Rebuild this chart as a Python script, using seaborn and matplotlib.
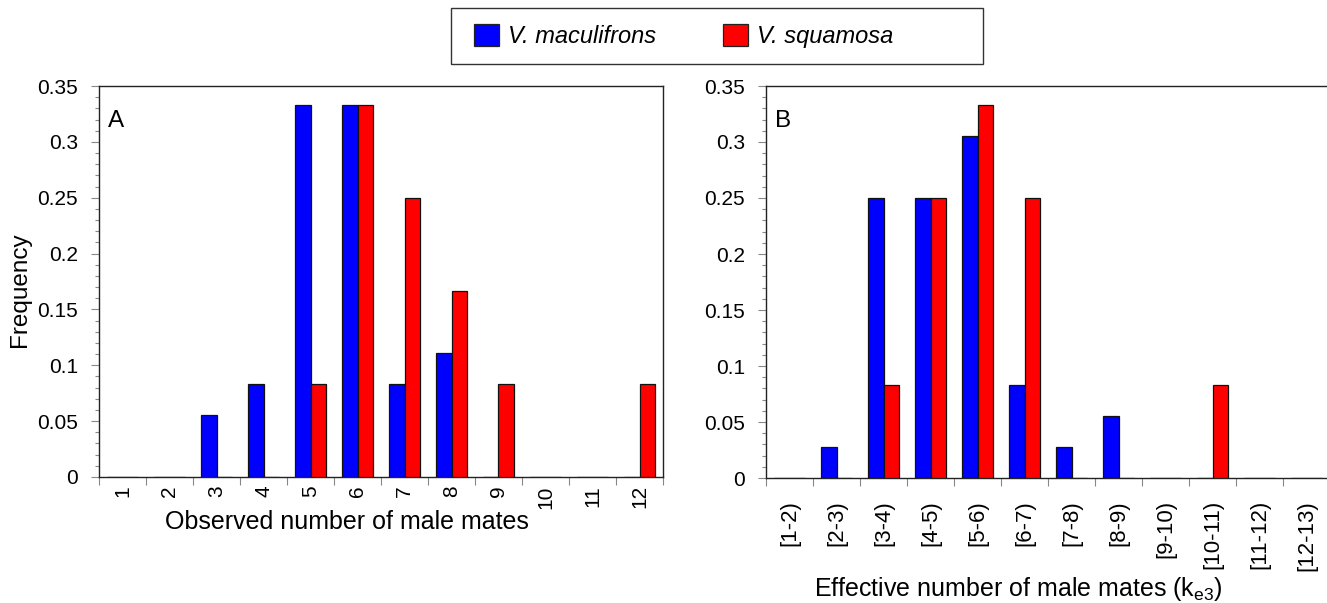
import numpy as np
import pandas as pd
import matplotlib
matplotlib.use("Agg")
import matplotlib.pyplot as plt
from matplotlib.patches import Patch, Rectangle
from matplotlib.ticker import MultipleLocator, FixedLocator, FuncFormatter
import seaborn as sns

sns.set_style("ticks")
plt.rcParams["font.family"] = ["Liberation Sans", "DejaVu Sans"]
plt.rcParams["text.color"] = "black"
plt.rcParams["axes.labelcolor"] = "black"

# Data
species = ["V. maculifrons", "V. squamosa"]
colors = {"V. maculifrons": "#0000ff", "V. squamosa": "#ff0000"}

obs_cats = [str(i) for i in range(1, 13)]
obs_mac = [0, 0, 0.0556, 0.0833, 0.3333, 0.3333, 0.0833, 0.1111, 0, 0, 0, 0]
obs_squ = [0, 0, 0, 0, 0.0833, 0.3333, 0.25, 0.1667, 0.0833, 0, 0, 0.0833]

eff_cats = [f"[{i}-{i+1})" for i in range(1, 13)]
eff_mac = [0, 0.0278, 0.25, 0.25, 0.3056, 0.0833, 0.0278, 0.0556, 0, 0, 0, 0]
eff_squ = [0, 0, 0.0833, 0.25, 0.3333, 0.25, 0, 0, 0, 0.0833, 0, 0]


def long_df(cats, mac, squ):
    return pd.DataFrame({
        "cat": cats * 2,
        "species": [species[0]] * len(cats) + [species[1]] * len(cats),
        "freq": mac + squ,
    })


W, H = 1327, 603
fig = plt.figure(figsize=(W / 100, H / 100), dpi=100)
axA = fig.add_axes([99 / W, (H - 477) / H, 564 / W, 391 / H])
axB = fig.add_axes([766 / W, (H - 478) / H, 564 / W, 392 / H])


def draw(ax, cats, mac, squ, letter, xlabel, lab_pad, tick_size):
    sns.barplot(data=long_df(cats, mac, squ), x="cat", y="freq", hue="species",
                order=cats, hue_order=species, palette=colors, saturation=1,
                width=2 / 3, edgecolor="#111111", linewidth=0.9, errorbar=None,
                legend=False, ax=ax, zorder=3)
    n = len(cats)
    ax.set_xlim(-0.5, n - 0.5)
    ax.set_ylim(0, 0.35)
    ax.yaxis.set_major_locator(MultipleLocator(0.05))
    ax.yaxis.set_minor_locator(MultipleLocator(0.01))
    ax.yaxis.set_major_formatter(FuncFormatter(lambda v, p: f"{v:g}"))
    # labels at centers, tick marks on the category boundaries
    ax.set_xticks(np.arange(n))
    ax.set_xticklabels(cats, rotation=90, va="top", ha="center")
    ax.xaxis.set_minor_locator(FixedLocator(np.arange(n + 1) - 0.5))
    ax.tick_params(axis="x", which="major", length=0, pad=lab_pad,
                   labelsize=tick_size, labelcolor="black")
    ax.tick_params(axis="x", which="minor", length=6, width=0.8, color="#888888")
    ax.tick_params(axis="y", which="major", length=6, width=0.8, color="#888888",
                   labelsize=15, pad=9, labelcolor="black")
    ax.tick_params(axis="y", which="minor", length=3, width=0.8, color="#888888")
    for s in ax.spines.values():
        s.set_linewidth(1.0)
        s.set_color("#222222")
    ax.set_xlabel(xlabel, fontsize=18, va="center")
    ax.set_ylabel("")
    ax.text(0.016, 0.91, letter, transform=ax.transAxes, fontsize=17.5,
            ha="left", va="center")


draw(axA, obs_cats, obs_mac, obs_squ, "A", "Observed number of male mates", 6, 15)
draw(axB, eff_cats, eff_mac, eff_squ, "B",
     "Effective number of male mates (k$_{\\mathregular{e3}}$)", 16, 16)
axA.xaxis.set_label_coords((347 - 99) / 564, (477 - 522) / 391)
axB.xaxis.set_label_coords((1018 - 766) / 564, (478 - 589) / 392)
axA.set_ylabel("Frequency", fontsize=17.5, va="center")
axA.yaxis.set_label_coords((20 - 99) / 564, (477 - 290) / 391)

# legend
handles = [Patch(facecolor=colors[s], edgecolor="#222222", linewidth=0.9, label=s)
           for s in species]
fig.legend(handles=handles, loc="center left", bbox_to_anchor=(474 / W, 1 - 36 / H),
           ncol=2, frameon=False, prop={"style": "italic", "size": 17},
           handlelength=1.06, handleheight=1.06, handletextpad=0.4,
           columnspacing=2.8, borderpad=0, borderaxespad=0)
fig.patches.append(Rectangle((451 / W, 1 - 64 / H), 532 / W, 56 / H,
                             transform=fig.transFigure, fill=False,
                             edgecolor="#333333", linewidth=1.0))

fig.savefig("out.png", dpi=100)
